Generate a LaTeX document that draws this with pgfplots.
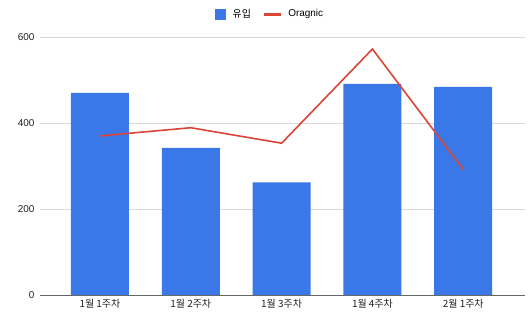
\documentclass[border=0pt]{standalone}
\usepackage{pgfplots}
\pgfplotsset{compat=1.18}
\usepackage{fontspec}
\setmainfont{Liberation Sans}
\newfontfamily\kr{Noto Sans CJK KR}
\definecolor{barblue}{HTML}{3B78E7}
\definecolor{linered}{HTML}{DB4437}
\definecolor{gridgray}{HTML}{D9D9D9}
\definecolor{ticktext}{HTML}{222222}
\begin{document}
\begin{tikzpicture}
\path[use as bounding box] (0,0) rectangle (530bp,325bp);
\begin{axis}[
  at={(40bp,30bp)}, anchor=south west,
  scale only axis, width=485bp, height=258bp,
  xmin=-0.66, xmax=4.68, ymin=0, ymax=600,
  ytick={0,200,400,600},
  xtick={0,1,2,3,4},
  xticklabels={{\kr 1월 1주차},{\kr 1월 2주차},{\kr 1월 3주차},{\kr 1월 4주차},{\kr 2월 1주차}},
  ymajorgrids, grid style={gridgray, line width=0.8pt},
  axis line style={draw=none},
  major tick length=0pt,
  tick label style={font=\fontsize{10}{12}\selectfont, text=ticktext},
  /pgf/number format/assume math mode=true,
  yticklabel style={xshift=-2bp},
  xticklabel style={yshift=-1bp},
  legend style={at={(0.474,1.089)}, anchor=center, draw=none, fill=none,
    font=\fontsize{10}{12}\selectfont, legend columns=2,
    /tikz/every even column/.append style={column sep=10bp}},
  legend image code/.code={},
  clip=false,
]
\addplot[ybar, bar width=58bp, fill=barblue, draw=none,
  legend image code/.code={\fill[barblue] (0bp,-5.5bp) rectangle (11bp,5.5bp);
    \path (16bp,0bp);}]
  coordinates {(0,470) (1,342) (2,262) (3,491) (4,484)};
\addlegendentry{\kr 유입}
\addplot[linered, line width=1.6pt, mark=none,
  legend image code/.code={\draw[linered, line width=3pt] (0bp,0bp) -- (17bp,0bp);
    \path (21bp,0bp);}]
  coordinates {(0,370) (1,389) (2,353) (3,572) (4,292)};
\addlegendentry{Oragnic}
\draw[gray!80!black, line width=1pt] (axis cs:-0.66,0) -- (axis cs:4.68,0);
\end{axis}
\end{tikzpicture}
\end{document}
